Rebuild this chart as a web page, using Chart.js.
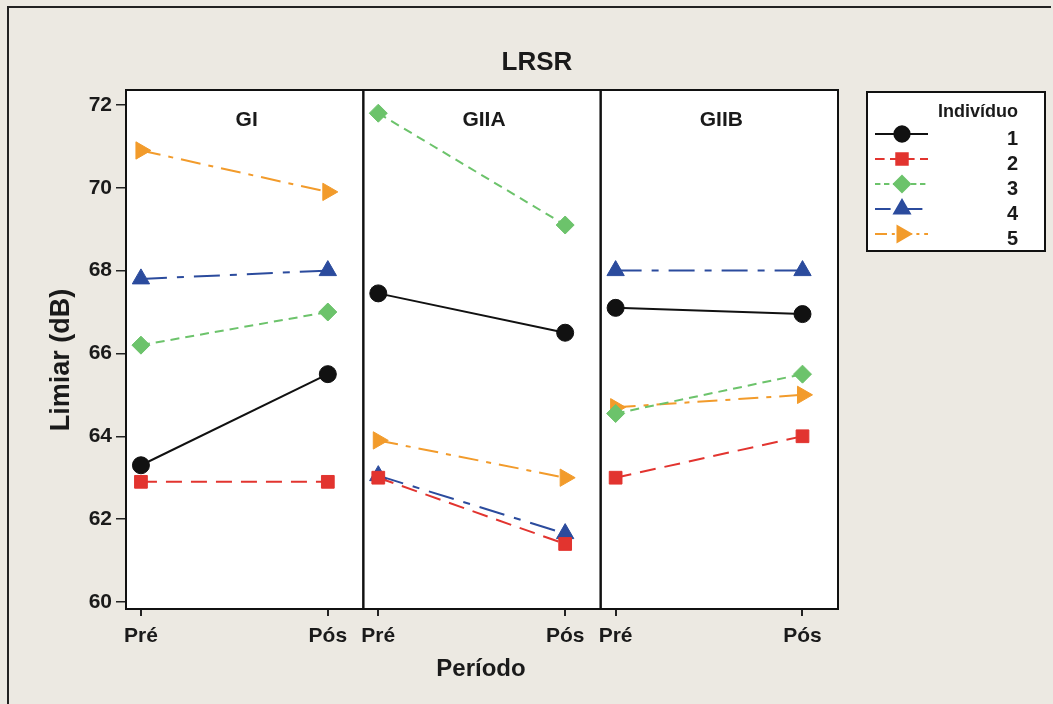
<!DOCTYPE html>
<html>
<head>
<meta charset="utf-8">
<script src="https://cdn.jsdelivr.net/npm/chart.js@4/dist/chart.umd.min.js"></script>
<style>
  html, body { margin: 0; padding: 0; background: #ece9e2; }
  #wrap { width: 1053px; height: 704px; position: relative; }
</style>
</head>
<body>
<div id="wrap"><canvas id="lrsr" width="1053" height="704"></canvas></div>
<script>
// ---- dados ----
const periods = ['Pré', 'Pós'];
const groups = ['GI', 'GIIA', 'GIIB'];
const individuals = ['1', '2', '3', '4', '5'];
const yTicks = [60, 62, 64, 66, 68, 70, 72];

// valores por grupo (índice = indivíduo 1..5)
const giPre   = [63.3, 62.9, 66.2, 67.8, 70.9];
const giPos   = [65.5, 62.9, 67.0, 68.0, 69.9];
const giiaPre = [67.45, 63.0, 71.8, 63.05, 63.9];
const giiaPos = [66.5, 61.4, 69.1, 61.65, 63.0];
const giibPre = [67.1, 63.0, 64.55, 68.0, 64.7];
const giibPos = [66.95, 64.0, 65.5, 68.0, 65.0];

const groupData = [[giPre, giPos], [giiaPre, giiaPos], [giibPre, giibPos]];

// estilo de cada indivíduo
const styles = [
    { color: '#111111', dash: [],              point: 'circle',   radius: 8.5, rotation: 0 },
    { color: '#e2342f', dash: [16, 9],         point: 'rect',     radius: 9,   rotation: 0 },
    { color: '#6cc36b', dash: [9, 6],          point: 'rectRot',  radius: 9,   rotation: 0 },
    { color: '#2b4b9d', dash: [26, 10, 7, 10], point: 'triangle', radius: 10,  rotation: 0 },
    { color: '#f29b2b', dash: [20, 8, 5, 8],   point: 'triangle', radius: 10,  rotation: 90 }
];

const FONT = "'Liberation Sans', Arial, sans-serif";

const datasets = [];
groups.forEach((g, gi) => {
    const [pre, pos] = groupData[gi];
    individuals.forEach((ind, i) => {
        const s = styles[i];
        datasets.push({
            label: g + ' - ' + ind,
            xAxisID: 'x' + gi,
            yAxisID: 'y',
            data: [{ x: 0, y: pre[i] }, { x: 1, y: pos[i] }],
            borderColor: s.color,
            backgroundColor: s.color,
            borderWidth: 2,
            borderDash: s.dash,
            pointStyle: s.point,
            pointRotation: s.rotation,
            pointRadius: s.radius,
            pointBorderWidth: 1,
            tension: 0,
            clip: false
        });
    });
});

function xScale(gi) {
    return {
        type: 'linear',
        position: 'bottom',
        stack: 'periodo',
        stackWeight: 1,
        min: -0.08,
        max: 1.19,
        afterBuildTicks: (scale) => { scale.ticks = periods.map((p, i) => ({ value: i })); },
        afterFit: (scale) => { scale.height = 95; },
        ticks: {
            color: '#1a1a1a',
            font: { family: FONT, size: 21, weight: 'bold' },
            padding: 8,
            maxRotation: 0,
            autoSkip: false,
            callback: (v) => periods[v]
        },
        grid: { drawOnChartArea: false, drawTicks: true, tickLength: 7, color: '#222', lineWidth: 2 },
        border: { display: false }
    };
}

const panelPlugin = {
    id: 'panels',
    beforeDraw(chart) {
        const { ctx, chartArea } = chart;
        ctx.save();
        ctx.fillStyle = '#ece9e2';
        ctx.fillRect(0, 0, chart.width, chart.height);
        // moldura externa
        ctx.strokeStyle = '#222';
        ctx.lineWidth = 2;
        ctx.beginPath();
        ctx.moveTo(8, chart.height);
        ctx.lineTo(8, 7);
        ctx.lineTo(chart.width - 2, 7);
        ctx.stroke();
        ctx.fillStyle = '#ffffff';
        ctx.fillRect(chartArea.left, chartArea.top, chartArea.right - chartArea.left, chartArea.bottom - chartArea.top);
        ctx.restore();
    },
    afterDraw(chart) {
        const { ctx, chartArea } = chart;
        ctx.save();
        // caixas dos painéis + cabeçalhos
        ctx.strokeStyle = '#111';
        ctx.lineWidth = 2;
        ctx.fillStyle = '#1a1a1a';
        ctx.font = 'bold 21px ' + FONT;
        ctx.textAlign = 'center';
        ctx.textBaseline = 'middle';
        groups.forEach((g, gi) => {
            const sc = chart.scales['x' + gi];
            ctx.strokeRect(sc.left, chartArea.top, sc.right - sc.left, chartArea.bottom - chartArea.top);
            ctx.fillText(g, (sc.left + sc.right) / 2 + 2, 120);
        });

        // título
        ctx.font = 'bold 26px ' + FONT;
        ctx.fillText('LRSR', 537, 63);

        // título do eixo x
        ctx.font = 'bold 24px ' + FONT;
        ctx.fillText('Período', 481, 669);

        // título do eixo y
        ctx.save();
        ctx.translate(62, 360);
        ctx.rotate(-Math.PI / 2);
        ctx.font = 'bold 27px ' + FONT;
        ctx.fillText('Limiar (dB)', 0, 0);
        ctx.restore();

        // legenda
        const lx = 867, ly = 92, lw = 178, lh = 159;
        ctx.fillStyle = '#ffffff';
        ctx.fillRect(lx, ly, lw, lh);
        ctx.strokeStyle = '#111';
        ctx.lineWidth = 2;
        ctx.strokeRect(lx, ly, lw, lh);
        ctx.fillStyle = '#1a1a1a';
        ctx.font = 'bold 18px ' + FONT;
        ctx.textAlign = 'right';
        ctx.fillText('Indivíduo', 1018, 112);
        individuals.forEach((ind, i) => {
            const s = styles[i];
            const y = 134 + i * 25;
            ctx.save();
            ctx.strokeStyle = s.color;
            ctx.fillStyle = s.color;
            ctx.lineWidth = 2;
            ctx.setLineDash(s.dash.map(d => d * 0.6));
            ctx.beginPath();
            ctx.moveTo(875, y);
            ctx.lineTo(928, y);
            ctx.stroke();
            ctx.setLineDash([]);
            Chart.helpers.drawPoint(ctx, {
                pointStyle: s.point,
                rotation: s.rotation,
                radius: s.radius * 0.9,
                borderWidth: 1
            }, 902, y);
            ctx.restore();
            ctx.fillStyle = '#1a1a1a';
            ctx.font = 'bold 20px ' + FONT;
            ctx.fillText(ind, 1018, y + 5);
        });
        ctx.restore();
    }
};

new Chart(document.getElementById('lrsr'), {
    type: 'line',
    data: { datasets: datasets },
    options: {
        responsive: false,
        animation: false,
        layout: { padding: { top: 90, right: 215, bottom: 0, left: 0 } },
        plugins: {
            legend: { display: false },
            title: { display: false },
            tooltip: { enabled: false }
        },
        scales: {
            x0: xScale(0),
            x1: xScale(1),
            x2: xScale(2),
            y: {
                type: 'linear',
                position: 'left',
                min: 59.83,
                max: 72.36,
                afterBuildTicks: (scale) => { scale.ticks = yTicks.map(v => ({ value: v })); },
                afterFit: (scale) => { scale.width = 126; },
                ticks: {
                    color: '#1a1a1a',
                    font: { family: FONT, size: 21, weight: 'bold' },
                    padding: 4
                },
                grid: { drawOnChartArea: false, drawTicks: true, tickLength: 10, color: '#222', lineWidth: 1.5 },
                border: { display: false }
            }
        }
    },
    plugins: [panelPlugin]
});
</script>
</body>
</html>
